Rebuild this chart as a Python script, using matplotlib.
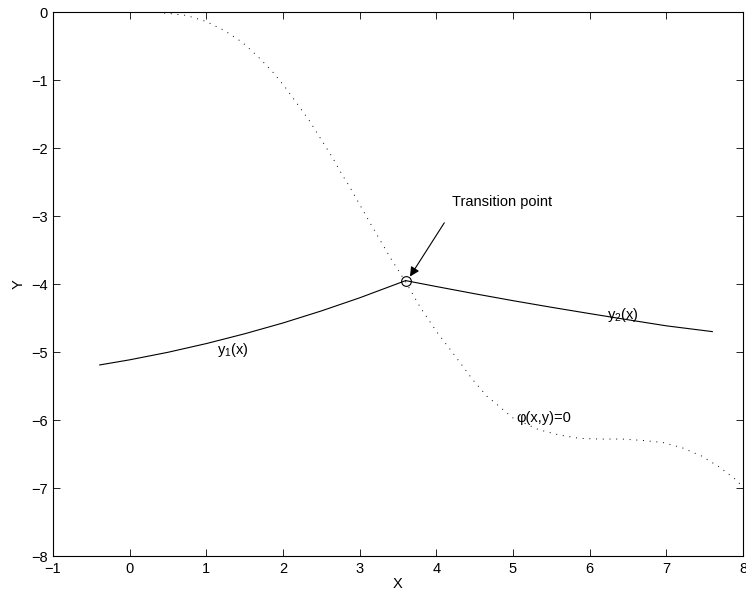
import matplotlib
matplotlib.use('Agg')
import matplotlib.pyplot as plt

plt.rcParams['font.family'] = ['Liberation Sans', 'DejaVu Sans']
plt.rcParams['font.size'] = 10.5
plt.rcParams['mathtext.fontset'] = 'custom'
plt.rcParams['mathtext.rm'] = 'Liberation Sans'
plt.rcParams['mathtext.it'] = 'Liberation Sans'

# lower branch y1(x)
x1 = [-0.39, 0.0, 0.5, 1.0, 1.5, 2.0, 2.5, 3.0, 3.6]
y1 = [-5.19, -5.115, -5.004, -4.876, -4.732, -4.573, -4.396, -4.203, -3.95]

# upper branch y2(x)
x2 = [3.6, 4.0, 4.5, 5.0, 5.5, 6.0, 6.5, 7.0, 7.6]
y2 = [-3.95, -4.037, -4.143, -4.245, -4.342, -4.435, -4.526, -4.615, -4.70]

# boundary phi(x,y)=0
xphi = [0.1, 0.37, 0.74, 1.0, 1.24, 1.47, 1.67, 1.86, 2.03, 2.19, 2.35, 2.49,
        2.64, 2.77, 2.87, 3.14, 3.42, 3.60, 3.80, 4.01, 4.24, 4.47, 4.66,
        4.80, 5.00, 5.33, 5.60, 5.87, 6.14, 6.42, 6.69, 6.95, 7.21, 7.46,
        7.69, 7.91, 8.0]
yphi = [0.0, -0.005, -0.05, -0.14, -0.275, -0.446, -0.652, -0.873, -1.108,
        -1.357, -1.608, -1.86, -2.13, -2.39, -2.57, -3.11, -3.65, -3.97,
        -4.36, -4.71, -5.05, -5.40, -5.65, -5.78, -5.97, -6.14, -6.22, -6.27,
        -6.28, -6.28, -6.30, -6.33, -6.41, -6.53, -6.69, -6.88, -6.99]

xt, yt = 3.6, -3.95

fig = plt.figure(figsize=(7.46, 6.0), dpi=100)
ax = fig.add_axes([0.071, 0.0733, 0.925, 0.9067])

ax.plot(xphi, yphi, color='black', lw=0.7, linestyle=(0, (1, 5.9)))
ax.plot(x1, y1, color='black', lw=0.8)
ax.plot(x2, y2, color='black', lw=0.8)
ax.plot([xt], [yt], 'o', ms=7, mfc='none', mec='black', mew=0.8)

ax.annotate('', xy=(3.656, -3.89), xytext=(4.104, -3.10),
            arrowprops=dict(arrowstyle='-|>', color='black', lw=0.8,
                            mutation_scale=14, shrinkA=0, shrinkB=0))
ax.text(4.2, -2.79, 'Transition point', ha='left', va='center', fontsize=10.5)
ax.text(1.14, -4.97, r'y$_1$(x)', ha='left', va='center', fontsize=10.5)
ax.text(6.22, -4.46, r'y$_2$(x)', ha='left', va='center', fontsize=10.5)
ax.text(5.05, -5.97, 'φ(x,y)=0', ha='left', va='center', fontsize=10.5)

ax.set_xlim(-1, 8)
ax.set_ylim(-8, 0)
ax.set_xticks(range(-1, 9))
ax.set_yticks(range(-8, 1))
ax.tick_params(direction='in', length=5, width=0.6, top=True, right=True, pad=4)
for s in ax.spines.values():
    s.set_linewidth(0.8)
ax.set_xlabel('X', labelpad=1)
ax.set_ylabel('Y', labelpad=4)

fig.savefig('out.png', dpi=100)
